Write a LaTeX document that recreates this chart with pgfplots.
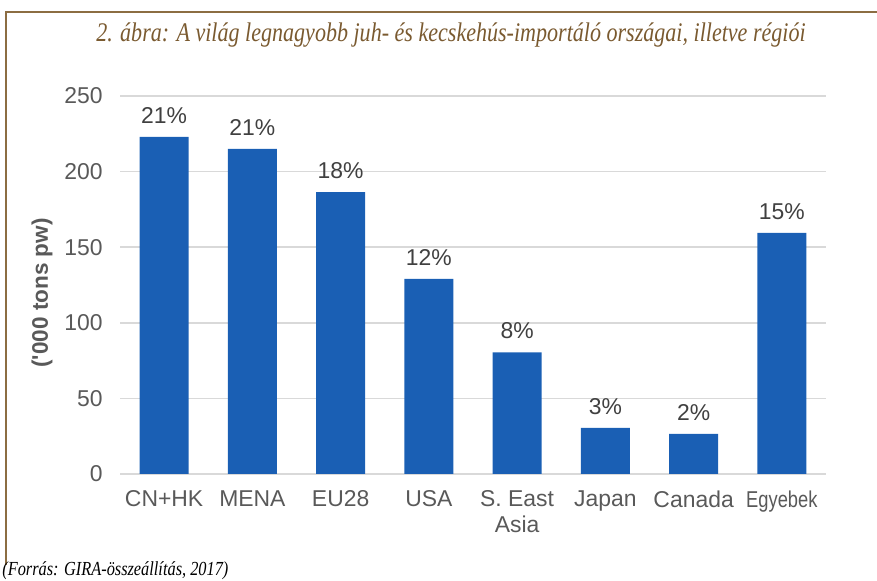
\documentclass[border=0pt]{standalone}
\usepackage{pgfplots}
\pgfplotsset{compat=1.18}
\usepackage{fontspec}
\setmainfont{Liberation Sans}
\newfontfamily\titlefont[FakeStretch=0.82]{Liberation Serif}
\newfontfamily\narrow[FakeStretch=0.8]{Liberation Sans}
\definecolor{bar}{HTML}{1A5FB4}
\definecolor{ink}{HTML}{595959}
\definecolor{dark}{HTML}{404040}
\definecolor{gridc}{HTML}{D9D9D9}
\definecolor{frame}{HTML}{8C6D42}
\definecolor{titlec}{HTML}{7A5A30}

\begin{document}
\begin{tikzpicture}
\useasboundingbox (0,0) rectangle (438.5bp,290.5bp);
\draw[frame, line width=1bp] (3bp,8bp) -- (3bp,284.5bp) -- (440bp,284.5bp);
\node[titlec, font={\titlefont\itshape\fontsize{13.5}{15}\selectfont}] at (225.5bp,273bp)
  {2. ábra: A világ legnagyobb juh- és kecskehús-importáló országai, illetve régiói};
\node[anchor=south west, inner sep=0pt, font={\titlefont\itshape\fontsize{10}{12}\selectfont}] at (1bp,0.5bp)
  {(Forrás: GIRA-összeállítás, 2017)};
\node[rotate=90, ink, font={\bfseries\fontsize{11.3}{13}\selectfont}] at (21bp,144bp) {(\textquotesingle 000 tons pw)};
\begin{axis}[
  at={(60bp,53.5bp)}, anchor=south west,
  width=353bp, height=189bp, scale only axis,
  ybar, bar width=24.5bp,
  xmin=-0.5, xmax=7.5, ymin=0, ymax=250,
  xtick={0,1,2,3,4,5,6,7},
  xticklabels={CN+HK,MENA,EU28,USA,{S. East\\Asia},Japan,Canada,{\narrow Egyebek}},
  ytick={0,50,100,150,200,250},
  /pgf/number format/assume math mode=true,
  major tick length=0pt,
  axis line style={draw=none},
  ymajorgrids, grid style={gridc, line width=0.8bp},
  tick label style={font=\fontsize{11.5}{13}\selectfont, color=ink},
  xticklabel style={align=center, anchor=north, inner sep=0pt, yshift=-8bp},
  yticklabel style={anchor=east, inner sep=0pt, xshift=-8.5bp},
  point meta=explicit symbolic,
  nodes near coords,
  every node near coord/.append style={font=\fontsize{11.5}{13}\selectfont, color=dark, inner sep=0pt, yshift=6.5bp},
]
\addplot[fill=bar, draw=none] coordinates {
  (0,223) [21\%]
  (1,215) [21\%]
  (2,186.5) [18\%]
  (3,129) [12\%]
  (4,80.5) [8\%]
  (5,30.5) [3\%]
  (6,26.5) [2\%]
  (7,159.5) [15\%]
};
\end{axis}
\end{tikzpicture}
\end{document}
